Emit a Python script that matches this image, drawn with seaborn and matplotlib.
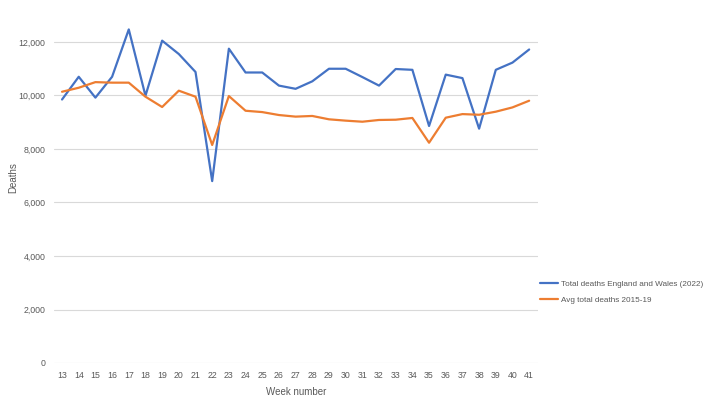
import matplotlib
matplotlib.use("Agg")
import matplotlib.pyplot as plt
import seaborn as sns
import pandas as pd

weeks = [str(w) for w in range(13, 42)]
total_2022 = [9850, 10700, 9920, 10700, 12470, 9990, 12050, 11550, 10880, 6800,
              11750, 10860, 10860, 10370, 10250, 10530, 11000, 11000, 10690, 10370,
              10990, 10960, 8860, 10780, 10650, 8760, 10960, 11230, 11720]
avg_2015_19 = [10140, 10290, 10500, 10480, 10480, 9955, 9570, 10180, 9955, 8150,
               9980, 9430, 9380, 9270, 9210, 9235, 9110, 9060, 9020, 9085,
               9095, 9160, 8235, 9170, 9305, 9280, 9395, 9555, 9805]
series_names = ["Total deaths England and Wales (2022)", "Avg total deaths 2015-19"]
y_ticks = [0, 2000, 4000, 6000, 8000, 10000, 12000]

df = pd.DataFrame({
    "Week": weeks * 2,
    "Deaths": total_2022 + avg_2015_19,
    "Series": [series_names[0]] * len(weeks) + [series_names[1]] * len(weeks),
})

sns.set_theme(style="white")
plt.rcParams["font.family"] = ["Liberation Sans", "DejaVu Sans"]
text_color = "#595959"

fig = plt.figure(figsize=(7.15, 3.99), dpi=100)
W, H = 715, 399
ax = fig.add_axes([53.7 / W, (H - 363) / H, (537.5 - 53.7) / W, (363 - 10) / H])

sns.lineplot(data=df, x="Week", y="Deaths", hue="Series", ax=ax,
             palette=["#4472C4", "#ED7D31"], linewidth=1.6, sort=False)

ax.set_xlim(-0.5, len(weeks) - 0.5)
ax.set_ylim(0, 12000 * 353 / 321)
ax.set_yticks(y_ticks)
ax.set_yticklabels([f"{v:,}" for v in y_ticks])
ax.grid(axis="y", color="#D9D9D9", linewidth=0.8)
ax.set_axisbelow(True)
for s in ax.spines.values():
    s.set_visible(False)
ax.tick_params(axis="both", length=0, labelsize=6.3, colors=text_color, pad=6)
ax.set_xlabel("")
ax.set_ylabel("")
fig.text(296 / W, 1 - 392 / H, "Week number", fontsize=7, color=text_color,
         ha="center", va="center")
fig.text(13 / W, 1 - 178 / H, "Deaths", fontsize=7, color=text_color,
         ha="center", va="center", rotation=90)

handles, labels = ax.get_legend_handles_labels()
ax.legend(handles, labels, loc="upper left", bbox_to_anchor=(537 / W, 1 - 277 / H),
          bbox_transform=fig.transFigure, frameon=False, fontsize=5.9,
          labelcolor=text_color, handlelength=2.2, handletextpad=0.3,
          labelspacing=1.0, borderaxespad=0)

fig.savefig("out.png", dpi=100)
